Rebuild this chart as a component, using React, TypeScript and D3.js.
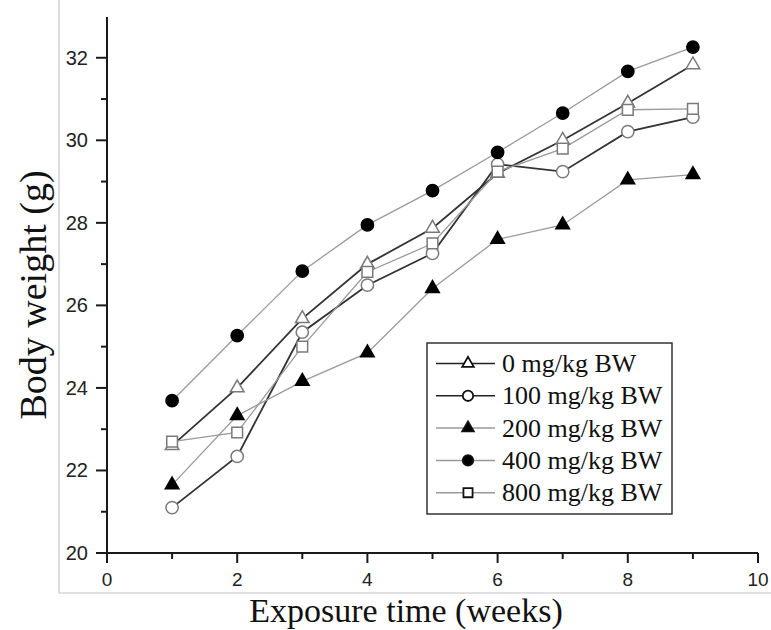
import React from "react";
import * as d3 from "d3";

const weeks = [1, 2, 3, 4, 5, 6, 7, 8, 9];
const s0 = [22.6, 24.0, 25.68, 27.0, 27.87, 29.2, 30.0, 30.9, 31.83];
const s100 = [21.1, 22.34, 25.35, 26.49, 27.26, 29.42, 29.24, 30.21, 30.56];
const s200 = [21.65, 23.33, 24.16, 24.85, 26.41, 27.6, 27.95, 29.04, 29.17];
const s400 = [23.69, 25.27, 26.83, 27.95, 28.78, 29.71, 30.66, 31.67, 32.26];
const s800 = [22.7, 22.92, 25.0, 26.81, 27.5, 29.24, 29.8, 30.74, 30.76];
const seriesNames = ["0 mg/kg BW", "100 mg/kg BW", "200 mg/kg BW", "400 mg/kg BW", "800 mg/kg BW"];
const xTicks = [0, 2, 4, 6, 8, 10];
const xMinor = [1, 3, 5, 7, 9];
const yTicks = [20, 22, 24, 26, 28, 30, 32];
const yMinor = [21, 23, 25, 27, 29, 31];

type Style = { values: number[]; line: string; lw: number; shape: string; filled: boolean };
const styles: Style[] = [
  { values: s0, line: "#333", lw: 1.8, shape: "tri", filled: false },
  { values: s100, line: "#333", lw: 1.8, shape: "circle", filled: false },
  { values: s200, line: "#9a9a9a", lw: 1.3, shape: "tri", filled: true },
  { values: s400, line: "#9a9a9a", lw: 1.3, shape: "circle", filled: true },
  { values: s800, line: "#9a9a9a", lw: 1.3, shape: "square", filled: false },
];

const symPath = (shape: string, scale = 1) => {
  const t = shape === "tri" ? d3.symbolTriangle : shape === "circle" ? d3.symbolCircle : d3.symbolSquare;
  const size = shape === "tri" ? 80 : shape === "circle" ? 118 : 115;
  return d3.symbol().type(t).size(size * scale * scale)() as string;
};

export default function App() {
  const W = 771, H = 630;
  const x = d3.scaleLinear().domain([0, 10]).range([107, 758]);
  const y = d3.scaleLinear().domain([20, 33]).range([553, 16.5]);
  const line = d3.line<number>().x((_, i) => x(weeks[i])).y((v) => y(v));
  const axisColor = "#1a1a1a";
  const tickFont = "'Liberation Sans', Arial, sans-serif";
  const serif = "'Liberation Serif', 'Times New Roman', serif";

  const legX = 427, legY = 343, legW = 245, legH = 171;
  const rowY = (i: number) => 363.5 + i * 32.3;

  return (
    <svg width={W} height={H} style={{ position: "absolute", left: 0, top: 0, background: "#fff" }}>
      <rect x={0} y={0} width={W} height={H} fill="#fff" />
      {/* outer light frame */}
      <line x1={59} y1={0} x2={59} y2={593} stroke="#c4c4c4" strokeWidth={1.2} />
      <line x1={59} y1={593} x2={W} y2={593} stroke="#c4c4c4" strokeWidth={1.2} />

      {/* series lines */}
      {styles.map((s, i) => (
        <path key={"l" + i} d={line(s.values) as string} fill="none" stroke={s.line} strokeWidth={s.lw} />
      ))}
      {/* markers */}
      {styles.map((s, i) =>
        s.values.map((v, j) => (
          <path
            key={"m" + i + "-" + j}
            d={symPath(s.shape)}
            transform={`translate(${x(weeks[j])},${y(v)})`}
            fill={s.filled ? "#000" : "#fff"}
            stroke={s.filled ? "#000" : "#7a7a7a"}
            strokeWidth={1.5}
          />
        ))
      )}

      {/* axes */}
      <line x1={x(0)} y1={y(20)} x2={x(10)} y2={y(20)} stroke={axisColor} strokeWidth={2} />
      <line x1={x(0)} y1={y(20) + 1} x2={x(0)} y2={17} stroke={axisColor} strokeWidth={2} />
      {xTicks.map((t) => (
        <g key={"xt" + t}>
          <line x1={x(t)} x2={x(t)} y1={y(20)} y2={y(20) + 10} stroke={axisColor} strokeWidth={2} />
          <text x={x(t)} y={579.5} textAnchor="middle" dominantBaseline="central" fontFamily={tickFont} fontSize={19} fill="#222">
            {t}
          </text>
        </g>
      ))}
      {xMinor.map((t) => (
        <line key={"xm" + t} x1={x(t)} x2={x(t)} y1={y(20)} y2={y(20) + 6} stroke={axisColor} strokeWidth={2} />
      ))}
      {yTicks.map((t) => (
        <g key={"yt" + t}>
          <line x1={x(0) - 11} x2={x(0)} y1={y(t)} y2={y(t)} stroke={axisColor} strokeWidth={2} />
          <text x={88} y={y(t)} textAnchor="end" dominantBaseline="central" fontFamily={tickFont} fontSize={20} fill="#222">
            {t}
          </text>
        </g>
      ))}
      {yMinor.map((t) => (
        <line key={"ym" + t} x1={x(0) - 6} x2={x(0)} y1={y(t)} y2={y(t)} stroke={axisColor} strokeWidth={2} />
      ))}

      {/* axis titles */}
      <text x={406} y={622} textAnchor="middle" fontFamily={serif} fontSize={34} fill="#111">
        Exposure time (weeks)
      </text>
      <text
        transform={`translate(46,${295}) rotate(-90)`}
        textAnchor="middle"
        fontFamily={serif}
        fontSize={38}
        fill="#111"
      >
        Body weight (g)
      </text>

      {/* legend */}
      <rect x={legX} y={legY} width={legW} height={legH} fill="#fff" stroke="#333" strokeWidth={1.5} />
      {styles.map((s, i) => (
        <g key={"lg" + i}>
          <line x1={436} x2={495} y1={rowY(i)} y2={rowY(i)} stroke={i < 2 ? "#222" : "#9a9a9a"} strokeWidth={1.5} />
          <path
            d={symPath(s.shape, 0.85)}
            transform={`translate(468,${rowY(i)})`}
            fill={s.filled ? "#000" : "#fff"}
            stroke="#111"
            strokeWidth={1.8}
          />
          <text x={502} y={rowY(i)} dominantBaseline="central" fontFamily={serif} fontSize={26} fill="#111">
            {seriesNames[i]}
          </text>
        </g>
      ))}
    </svg>
  );
}
